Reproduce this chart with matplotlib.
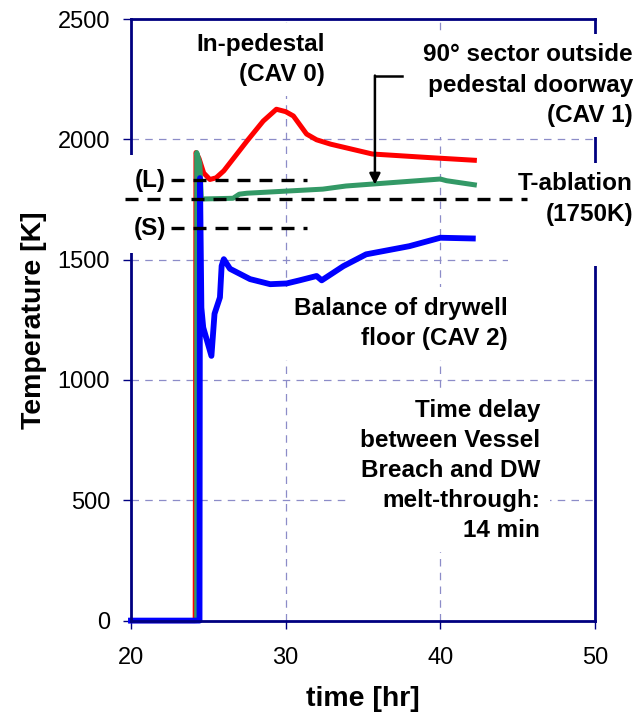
import matplotlib
matplotlib.use("Agg")
from matplotlib import pyplot as plt

plt.rcParams['font.family'] = ['Liberation Sans', 'DejaVu Sans']

# CAV 0 - in-pedestal
t_cav0 = [20.0, 24.15, 24.2, 24.4, 24.7, 25.1, 25.5, 26.0, 27.5, 28.55, 29.4, 30.0,
          30.5, 31.35, 32.0, 32.9, 35.6, 39.3, 42.2]
T_cav0 = [0, 0, 1945, 1920, 1860, 1833, 1840, 1869, 1993, 2076, 2125, 2115,
          2097, 2022, 1998, 1980, 1939, 1924, 1913]

# CAV 1 - 90 deg sector outside pedestal doorway
t_cav1 = [20.0, 24.25, 24.25, 24.45, 24.55, 26.6, 27.0, 27.5, 32.4, 33.9, 40.0, 40.4, 42.2]
T_cav1 = [0, 0, 1945, 1900, 1752, 1755, 1772, 1776, 1793, 1806, 1835, 1828, 1811]

# CAV 2 - balance of drywell floor
t_cav2 = [20.0, 24.43, 24.46, 24.55, 24.67, 25.2, 25.4, 25.75, 25.86, 26.0, 26.4, 27.7,
          29.0, 30.06, 30.9, 32.0, 32.33, 33.73, 35.2, 38.0, 40.0, 42.1]
T_cav2 = [0, 0, 1839, 1300, 1218, 1100, 1275, 1343, 1474, 1502, 1462, 1419,
          1398, 1401, 1414, 1432, 1414, 1473, 1522, 1556, 1591, 1588]

# reference temperatures
T_liquidus = 1830
T_solidus = 1630
T_ablation = 1750
ls_span = [22.6, 31.4]
abl_span = [19.6, 45.6]

xticks = [20, 30, 40, 50]
yticks = [0, 500, 1000, 1500, 2000, 2500]

navy = '#000080'
grid_col = '#8c8cc8'
box = dict(boxstyle='square,pad=0.4', fc='white', ec='none')

fig = plt.figure(figsize=(6.34, 7.19), dpi=100)
ax = fig.add_axes([131 / 634, 1 - 620.6 / 719, (595 - 131) / 634, (620.6 - 19) / 719])

ax.plot(t_cav0, T_cav0, color='#ff0000', lw=3.6, zorder=2, clip_on=False)
ax.plot(t_cav1, T_cav1, color='#339966', lw=3.6, zorder=2.1, clip_on=False)
ax.plot(t_cav2, T_cav2, color='#0000ff', lw=4.2, zorder=2.2, clip_on=False)

dash = (0, (3.9, 2.7))
ax.plot(ls_span, [T_liquidus] * 2, color='black', lw=2.4, ls=dash, zorder=4)
ax.plot(ls_span, [T_solidus] * 2, color='black', lw=2.4, ls=dash, zorder=4)
ax.plot(abl_span, [T_ablation] * 2, color='black', lw=2.4, ls=dash, zorder=4,
        clip_on=False)

ax.set_xlim(20, 50)
ax.set_ylim(0, 2500)
ax.set_xticks(xticks)
ax.set_yticks(yticks)
ax.grid(True, color=grid_col, lw=0.9, ls=(0, (6, 5)))
ax.set_axisbelow(True)
for s in ax.spines.values():
    s.set_color(navy)
    s.set_linewidth(2.0)
ax.tick_params(axis='both', direction='out', length=6, width=1, color=navy,
               labelsize=17)
ax.tick_params(axis='x', pad=13)
ax.tick_params(axis='y', pad=9)

ax.set_xlabel('time [hr]', fontsize=20.5, fontweight='bold', labelpad=12)
ax.set_ylabel('Temperature [K]', fontsize=20.5, fontweight='bold', labelpad=8)

txt = dict(fontsize=17.5, fontweight='bold', ha='right', va='center',
           multialignment='right', linespacing=1.4, bbox=box, zorder=3)
ax.text(32.54, 2333, 'In-pedestal\n(CAV 0)', **txt)
ax.text(52.45, 2225, '90° sector outside\npedestal doorway\n(CAV 1)', **txt)
ax.text(52.45, 1689, 'T-ablation\n(1750K)\n ', **txt)
ax.text(44.37, 1234, 'Balance of drywell\nfloor (CAV 2)', **txt)
ax.text(46.44, 624, 'Time delay\nbetween Vessel\nBreach and DW\nmelt-through:\n14 min', **txt)

lbl = dict(fontsize=17.5, fontweight='bold', ha='center', va='center',
           bbox=dict(boxstyle='square,pad=0.55', fc='white', ec='none'), zorder=3)
ax.text(21.25, T_liquidus, '(L)', **lbl)
ax.text(21.25, T_solidus, '(S)', **lbl)

# pointer from the CAV 1 label down to the green curve
ax.plot([37.5, 35.77], [2265, 2265], color='black', lw=1.8, zorder=4)
ax.annotate('', xy=(35.77, 1812), xytext=(35.77, 2265),
            arrowprops=dict(arrowstyle='-|>', color='black', lw=1.8,
                            mutation_scale=16, shrinkA=0, shrinkB=0),
            zorder=4)

fig.savefig('out.png', dpi=100)
